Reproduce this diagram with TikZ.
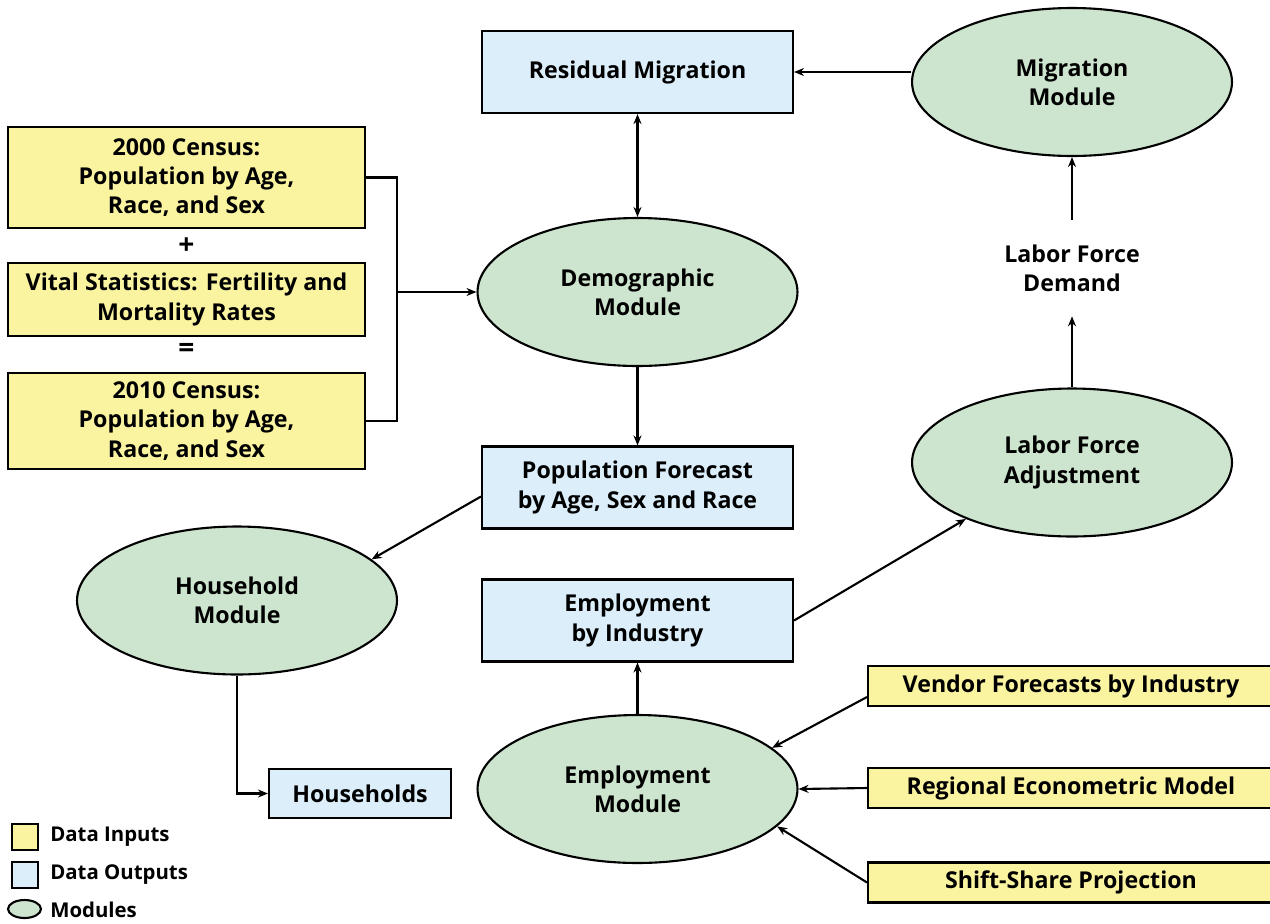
\documentclass[tikz,border=0pt]{standalone}
\usepackage{fontspec}
\setmainfont{Open Sans}
\usetikzlibrary{calc,arrows.meta,positioning,shapes.geometric}
\definecolor{inputfill}{RGB}{250,243,160}
\definecolor{outputfill}{RGB}{219,238,250}
\definecolor{modulefill}{RGB}{205,229,206}
\tikzstyle{flow} = [line width=1.2pt,->,>={Stealth[length=2mm,width=1.6mm]}]
\tikzstyle{inbox} = [draw,line width=1.2pt,fill=inputfill,align=center,inner sep=0pt]
\tikzstyle{outbox} = [draw,line width=1.2pt,fill=outputfill,align=center,inner sep=0pt,minimum width=6.22cm,minimum height=1.64cm]
\tikzstyle{module} = [draw,ellipse,line width=1.2pt,fill=modulefill,align=center,inner sep=0pt,minimum width=6.4cm,minimum height=2.96cm]
\tikzstyle{legend} = [anchor=west,inner sep=0pt,font=\fontsize{11.6}{13}\selectfont\bfseries]
\tikzstyle{opsign} = [inner sep=0pt,font=\fontsize{16}{18}\selectfont\bfseries]

\begin{document}
\begin{tikzpicture}[x=0.02cm,y=-0.02cm,font=\fontsize{13.2}{16.6}\selectfont\bfseries]
	\useasboundingbox (0,0) rectangle (1270,923);

	%% left column: census inputs
	\node[inbox,minimum width=7.14cm,minimum height=2.02cm] (cen00) at (186.5,177.5) {2000 Census:\\Population by Age,\\Race, and Sex};
	\node[opsign] (plus) at (186.5,246) {+};
	\node[inbox,minimum width=7.14cm,minimum height=1.46cm] (vital) at (186.5,299.5) {Vital Statistics: Fertility and\\Mortality Rates};
	\node[opsign] (equals) at (186.5,350) {=};
	\node[inbox,minimum width=7.14cm,minimum height=1.92cm] (cen10) at (186.5,421) {2010 Census:\\Population by Age,\\Race, and Sex};

	%% middle column
	\node[outbox] (res) at (637.5,72) {Residual Migration};
	\node[module] (demo) at (637.5,292) {Demographic\\Module};
	\node[outbox] (pop) at (637.5,487.5) {Population Forecast\\by Age, Sex and Race};
	\node[outbox] (ind) at (637.5,620.5) {Employment\\by Industry};
	\node[module] (emp) at (637.5,789) {Employment\\Module};

	%% households
	\node[module] (hh) at (237,600.5) {Household\\Module};
	\node[outbox,minimum width=3.64cm,minimum height=0.98cm] (hhs) at (360,793.5) {Households};

	%% right column
	\node[module] (mig) at (1072,82) {Migration\\Module};
	\node[align=center,minimum height=1.92cm] (lfd) at (1072,268) {Labor Force\\Demand};
	\node[module] (lfa) at (1072,462.5) {Labor Force\\Adjustment};
	\node[inbox,minimum width=8.12cm,minimum height=0.8cm] (vendor) at (1071,686) {Vendor Forecasts by Industry};
	\node[inbox,minimum width=8.12cm,minimum height=0.8cm] (regional) at (1071,788) {Regional Econometric Model};
	\node[inbox,minimum width=8.12cm,minimum height=0.8cm] (shift) at (1071,882.5) {Shift-Share Projection};

	%% key
	\node[inbox,minimum width=0.52cm,minimum height=0.52cm] (keyin) at (25,837) {};
	\node[outbox,minimum width=0.52cm,minimum height=0.52cm] (keyout) at (25,875) {};
	\node[module,minimum width=0.66cm,minimum height=0.36cm] (keymod) at (24.5,909) {};
	\node[legend] (keyintxt) at (50,837) {Data Inputs};
	\node[legend] (keyouttxt) at (50,875) {Data Outputs};
	\node[legend] (keymodtxt) at (50,910) {Modules};

	%% connectors
	\coordinate (brk) at (397,300);
	\draw[line width=1.2pt] (cen00.east) -| (brk) |- (cen10.east);
	\draw[flow] (brk |- demo.west) -- (demo.west);
	\draw[flow] (res.east -| mig.west) -- (res.east);
	\draw[flow,<->] (res.south) -- (demo.north);
	\draw[flow] (demo.south) -- (pop.north);
	\draw[flow] ([yshift=-0.18cm]pop.west) -- (hh.17);
	\draw[flow] (hh.south) |- (hhs.west);
	\draw[flow,line width=1.7pt] (emp.north) -- (ind.south);
	\draw[flow] (ind.east) -- (lfa.208);
	\draw[flow] (lfa.north) -- (lfd.south);
	\draw[flow] (lfd.north) -- (mig.south);
	\draw[flow] ([yshift=-0.22cm]vendor.west) -- (emp.17);
	\draw[flow] (regional.west) -- (emp.east);
	\draw[flow] (shift.west) -- (emp.-15);
\end{tikzpicture}
\end{document}
